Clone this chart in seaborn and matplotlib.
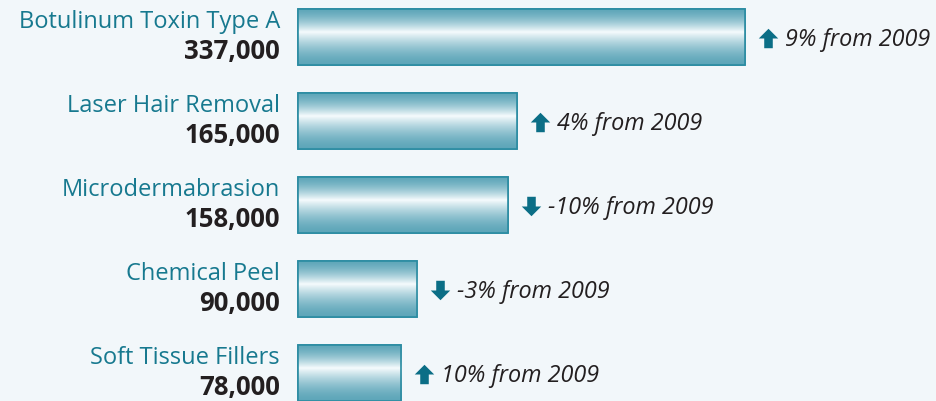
import numpy as np
import pandas as pd
import seaborn as sns
import matplotlib
matplotlib.use("Agg")
import matplotlib.pyplot as plt
from matplotlib.path import Path
from matplotlib.colors import to_rgb

categories = ["Botulinum Toxin Type A", "Laser Hair Removal", "Microdermabrasion",
              "Chemical Peel", "Soft Tissue Fillers"]
values = [337000, 165000, 158000, 90000, 78000]
value_labels = ["337,000", "165,000", "158,000", "90,000", "78,000"]
changes = ["9% from 2009", "4% from 2009", "-10% from 2009", "-3% from 2009", "10% from 2009"]
directions = ["up", "up", "down", "down", "up"]

BG = "#f2f7fa"
TEAL_TXT = "#17798f"
ARROW_C = "#0b6e86"
EDGE = "#2b8ca2"
DARK = "#5ea6b9"
LIGHT = "#f6fbfd"

W, H = 937, 401
fig = plt.figure(figsize=(W / 100, H / 100), dpi=100, facecolor=BG)
ax = fig.add_axes([0, 0, 1, 1])
ax.set_facecolor(BG)

df = pd.DataFrame({"category": categories, "value": values})
sns.barplot(data=df, x="value", y="category", orient="h", width=0.667,
            color=DARK, edgecolor=EDGE, linewidth=1.2, ax=ax)

# pixel mapping
x0_px, scale = 298, 447 / 337000.0   # px per unit
pitch = 84.0
c0 = 37.0

def px2x(px):
    return (px - x0_px) / scale

def dy(px):
    return px / pitch

# gradient fill
n = 200
t = np.linspace(0, 1, n)
mid = 0.42
w = np.where(t < mid, t / mid, (1 - t) / (1 - mid))
w = w ** 1.6
d = np.array(to_rgb(DARK)); l = np.array(to_rgb(LIGHT))
grad = d[None, :] * (1 - w[:, None]) + l[None, :] * w[:, None]
grad = np.repeat(grad[:, None, :], 2, axis=1)

for p in list(ax.patches):
    bx, by = p.get_x(), p.get_y()
    bw, bh = p.get_width(), p.get_height()
    im = ax.imshow(grad, extent=[bx, bx + bw, by + bh, by], origin="upper",
                   aspect="auto", zorder=p.get_zorder() + 0.1, interpolation="bilinear")
    im.set_clip_path(p)
    ax.add_patch(plt.Rectangle((bx, by), bw, bh, fill=False, edgecolor=EDGE,
                               linewidth=1.2, zorder=p.get_zorder() + 0.2))

ax.set_xlim(-x0_px / scale, (W - x0_px) / scale)
ax.set_ylim((H - c0) / pitch, -c0 / pitch)
ax.axis("off")

# arrow marker
up_arrow = Path([(-0.22, -0.5), (0.22, -0.5), (0.22, 0.0), (0.5, 0.0), (0.0, 0.5),
                 (-0.5, 0.0), (-0.22, 0.0), (-0.22, -0.5)],
                [Path.MOVETO] + [Path.LINETO] * 6 + [Path.CLOSEPOLY])
down_arrow = Path(up_arrow.vertices * np.array([1, -1]), up_arrow.codes)

font_main = "Open Sans"
for i, (cat, v, vl, ch, dr) in enumerate(zip(categories, values, value_labels, changes, directions)):
    ax.text(px2x(280), i - dy(9), cat, ha="right", va="baseline",
            fontsize=17, color=TEAL_TXT, family=font_main)
    ax.text(px2x(280), i + dy(22), vl, ha="right", va="baseline",
            fontsize=18.5, color="#231f20", family=font_main, fontweight="bold")
    end_px = x0_px + v * scale
    ax.plot(px2x(end_px + 23), i + dy(1), marker=up_arrow if dr == "up" else down_arrow,
            markersize=14, color=ARROW_C, markeredgewidth=0)
    ax.text(px2x(end_px + 40), i + dy(3), ch, ha="left", va="center",
            fontsize=16.8, color="#231f20", family=font_main, style="italic")

fig.savefig("out.png", dpi=100, facecolor=BG)
